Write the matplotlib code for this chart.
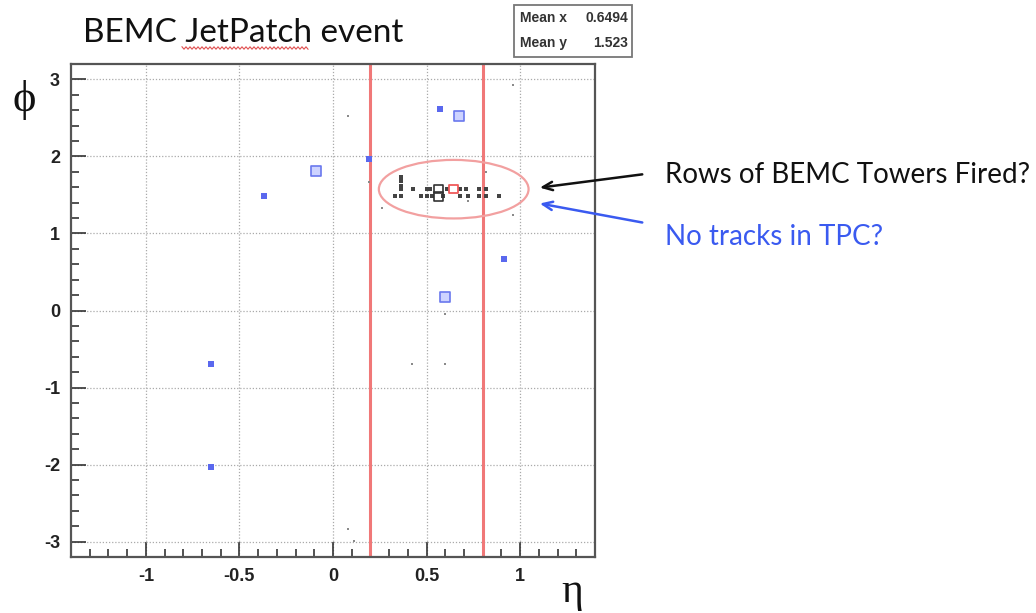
import numpy as np
import matplotlib
matplotlib.use("Agg")
import matplotlib.pyplot as plt
from matplotlib.patches import Ellipse, Rectangle

# tower hits (eta, phi) - faint single towers
tower_eta = [0.08, 0.96, 0.19, 0.26, 0.96, 0.89, 0.815, 0.72, 0.42, 0.60, 0.60, 0.08, 0.11]
tower_phi = [2.53, 2.93, 1.67, 1.33, 1.24, 1.50, 1.80, 1.42, -0.70, -0.70, -0.05, -2.84, -2.99]

# rows of fired towers inside the jet patch
row_eta = [0.365, 0.365, 0.365, 0.365, 0.365, 0.33,
           0.43, 0.50, 0.52, 0.61, 0.68, 0.71, 0.78, 0.815,
           0.47, 0.50, 0.53, 0.59, 0.68, 0.72, 0.78, 0.815, 0.885]
row_phi = [1.73, 1.68, 1.62, 1.58, 1.48, 1.48,
           1.58, 1.58, 1.58, 1.58, 1.58, 1.58, 1.58, 1.58,
           1.48, 1.48, 1.48, 1.48, 1.48, 1.48, 1.48, 1.48, 1.48]

# larger deposits
big_eta = [0.565, 0.565]
big_phi = [1.58, 1.48]

# jet position
jet_eta = [0.645]
jet_phi = [1.58]

# track hits
trk_eta = [0.57, 0.19, -0.37, 0.915, -0.65, -0.65]
trk_phi = [2.61, 1.97, 1.49, 0.67, -0.70, -2.03]
trk_big_eta = [0.675, -0.09, 0.60]
trk_big_phi = [2.53, 1.81, 0.18]

patch_edges = [0.2, 0.8]
mean_x = 0.6494
mean_y = 1.523

W, H = 1036, 613
fig = plt.figure(figsize=(W / 100, H / 100), dpi=100)
ax = fig.add_axes([71 / W, 1 - 557 / H, (595 - 71) / W, (557 - 64) / H])

ax.set_xlim(-1.4, 1.4)
ax.set_ylim(-3.2, 3.2)
ax.set_xticks([-1, -0.5, 0, 0.5, 1])
ax.set_xticklabels(["-1", "-0.5", "0", "0.5", "1"])
ax.set_yticks([-3, -2, -1, 0, 1, 2, 3])
ax.set_yticklabels(["-3", "-2", "-1", "0", "1", "2", "3"])
ax.set_xticks(np.arange(-1.4, 1.41, 0.1), minor=True)
ax.set_yticks(np.arange(-3.2, 3.21, 0.2), minor=True)
ax.tick_params(which="both", direction="in", top=False, right=False,
               color="#333333", width=1.2)
ax.tick_params(which="major", length=11, labelsize=13, pad=8)
ax.tick_params(which="minor", length=6)
for lab in ax.get_xticklabels() + ax.get_yticklabels():
    lab.set_fontfamily("Liberation Sans")
    lab.set_fontweight("bold")
    lab.set_color("#222222")
for sp in ax.spines.values():
    sp.set_color("#555555")
    sp.set_linewidth(1.6)

ax.grid(True, which="major", color="#aaaaaa", linestyle=(0, (1, 1.5)), linewidth=0.9)
ax.set_axisbelow(True)

# jet patch boundaries
for e in patch_edges:
    ax.axvline(e, color="#f07878", linewidth=2.2, zorder=2)

ax.scatter(tower_eta, tower_phi, marker="s", s=4, color="#8a8a8a", linewidths=0, zorder=3)
ax.scatter(row_eta, row_phi, marker="s", s=7, color="#444444", linewidths=0, zorder=3)
ax.scatter(big_eta, big_phi, marker="s", s=38, facecolor="none",
           edgecolor="#333333", linewidths=1.2, zorder=4)
ax.scatter(jet_eta, jet_phi, marker="s", s=38, facecolor="none",
           edgecolor="#f05a5a", linewidths=1.3, zorder=4)
ax.scatter(trk_eta, trk_phi, marker="s", s=13, color="#5a68ee", linewidths=0, zorder=3)
ax.scatter(trk_big_eta, trk_big_phi, marker="s", s=42, facecolor="#cdd3ff",
           edgecolor="#6a78ee", linewidths=1.2, zorder=3)

ax.add_patch(Ellipse((0.645, 1.575), 0.80, 0.76, fill=False,
                     edgecolor="#f2a0a0", linewidth=1.6, zorder=5))

# title with spell-check squiggle under "JetPatch"
fig.text(83 / W, 1 - 42 / H, "BEMC JetPatch event", fontsize=24,
         family="Lato", color="#111111", va="baseline")
sq_x = np.linspace(182, 308, 64)
sq_y = 48 + np.where(np.arange(64) % 2 == 0, -1.2, 1.2)
fig.add_artist(plt.Line2D(sq_x / W, 1 - sq_y / H, color="#e05050", linewidth=0.8))

# axis titles
fig.text(24 / W, 1 - 100 / H, "\u03d5", fontsize=32,
         family=["Liberation Serif", "DejaVu Serif"],
         ha="center", va="center", color="#111111")
fig.text(572 / W, 1 - 592 / H, "\u03b7", fontsize=30, family="Liberation Serif",
         ha="center", va="center", color="#111111")

# statistics box
fig.add_artist(Rectangle((514 / W, 1 - 57 / H), (632 - 514) / W, (57 - 5) / H,
                         transform=fig.transFigure, facecolor="white",
                         edgecolor="#777777", linewidth=1.3))
stat_font = dict(fontsize=10, family="Liberation Sans", fontweight="bold",
                 color="#333333", va="center")
fig.text(520 / W, 1 - 18 / H, "Mean x", ha="left", **stat_font)
fig.text(628 / W, 1 - 18 / H, f"{mean_x:.4f}", ha="right", **stat_font)
fig.text(520 / W, 1 - 43 / H, "Mean y", ha="left", **stat_font)
fig.text(628 / W, 1 - 43 / H, f"{mean_y:.3f}", ha="right", **stat_font)

# annotations
fig.text(665 / W, 1 - 175 / H, "Rows of BEMC Towers Fired?", fontsize=20,
         family="Lato", color="#111111", va="center")
fig.text(665 / W, 1 - 237 / H, "No tracks in TPC?", fontsize=20,
         family="Lato", color="#3a5af0", va="center")
ax.annotate("", xy=(537 / W, 1 - 188 / H), xycoords="figure fraction",
            xytext=(645 / W, 1 - 174 / H), textcoords="figure fraction",
            arrowprops=dict(arrowstyle="->,head_length=0.7,head_width=0.3",
                            color="#111111", linewidth=1.8),
            annotation_clip=False)
ax.annotate("", xy=(537 / W, 1 - 203 / H), xycoords="figure fraction",
            xytext=(645 / W, 1 - 223 / H), textcoords="figure fraction",
            arrowprops=dict(arrowstyle="->,head_length=0.7,head_width=0.3",
                            color="#3a5af0", linewidth=1.8),
            annotation_clip=False)

fig.savefig("out.png", dpi=100, facecolor="white")
